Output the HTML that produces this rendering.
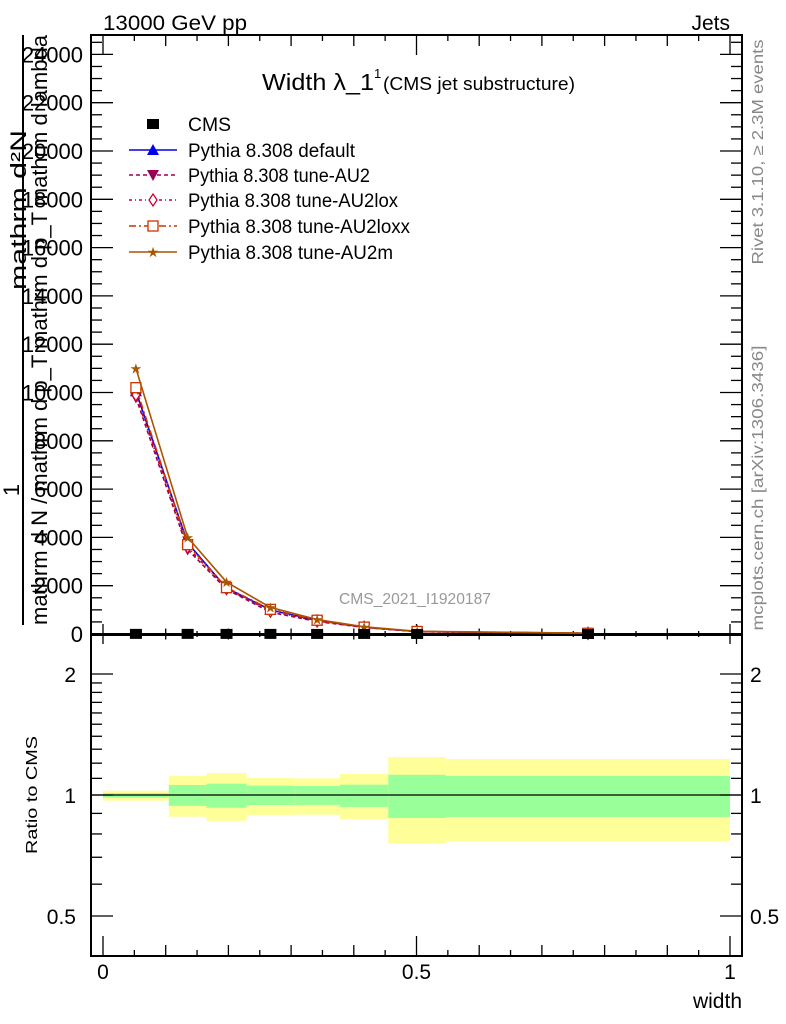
<!DOCTYPE html>
<html><head><meta charset="utf-8"><style>
body{margin:0;background:#fff}
svg{font-family:"Liberation Sans",sans-serif;display:block}
</style></head><body>
<svg id="chart" width="786" height="1024" xmlns="http://www.w3.org/2000/svg">
<text x="103" y="30" font-size="21" textLength="144" lengthAdjust="spacingAndGlyphs">13000 GeV pp</text>
<text x="730" y="30" font-size="21" text-anchor="end">Jets</text>
<text x="262" y="90" font-size="23" textLength="112" lengthAdjust="spacingAndGlyphs">Width λ_1</text>
<text x="374" y="78" font-size="13">1</text>
<text x="383" y="90" font-size="18" textLength="192" lengthAdjust="spacingAndGlyphs">(CMS jet substructure)</text>
<text transform="translate(763,152) rotate(-90)" font-size="16" fill="#888" text-anchor="middle" textLength="225" lengthAdjust="spacingAndGlyphs">Rivet 3.1.10, ≥ 2.3M events</text>
<text transform="translate(763,488) rotate(-90)" font-size="16" fill="#888" text-anchor="middle" textLength="285" lengthAdjust="spacingAndGlyphs">mcplots.cern.ch [arXiv:1306.3436]</text>
<text x="415" y="604" font-size="16" fill="#999" text-anchor="middle" textLength="152" lengthAdjust="spacingAndGlyphs">CMS_2021_I1920187</text>
<g font-size="22">
<text transform="translate(26,210) rotate(-90)" text-anchor="middle" textLength="160" lengthAdjust="spacingAndGlyphs">mathrm d²N</text>
<line x1="23" y1="35" x2="23" y2="625" stroke="#000" stroke-width="2"/>
<text transform="translate(19,490) rotate(-90)" text-anchor="middle">1</text>
<text transform="translate(47,330) rotate(-90)" text-anchor="middle" textLength="590" lengthAdjust="spacingAndGlyphs">mathrm d N / mathrm d p_T mathrm d p_T  mathrm d lambda</text>
</g>
<text transform="translate(37,795) rotate(-90)" font-size="16" text-anchor="middle" textLength="118" lengthAdjust="spacingAndGlyphs">Ratio to CMS</text>
<text x="742" y="1008" font-size="21" text-anchor="end">width</text>
<g id="bands"></g>
<g id="axes"></g>
<g id="series"></g>
<g id="legend"></g>
</svg>
<script>
const binEdges=[0,0.105,0.165,0.229,0.305,0.378,0.455,0.547,1.0];
const binCenters=[0.0525,0.135,0.197,0.267,0.3415,0.4165,0.501,0.7735];
const cmsValues=[5,5,4,4,3,3,2,1];
const defaultValues=[10050,3770,1900,1000,560,280,100,30];
const au2Values=[9800,3500,1850,900,520,270,95,28];
const au2loxValues=[9900,3600,1880,950,540,275,98,29];
const au2loxxValues=[10200,3700,1920,1020,570,285,105,32];
const au2mValues=[11000,4000,2150,1100,600,300,110,35];
const yellowUp=[1.025,1.115,1.134,1.102,1.10,1.128,1.243,1.229];
const yellowDown=[0.968,0.883,0.862,0.892,0.893,0.872,0.757,0.768];
const greenUp=[1.01,1.059,1.067,1.055,1.053,1.061,1.123,1.115];
const greenDown=[0.985,0.94,0.93,0.944,0.945,0.934,0.877,0.882];
const yTicks=[0,2000,4000,6000,8000,10000,12000,14000,16000,18000,20000,22000,24000];
const ratioTicks=[0.5,1,2];
const xTickLabels=[0,0.5,1];

const NS="http://www.w3.org/2000/svg";
const L=91,R=742,T=35,MB=635,RB=956;
const X=v=>103+627*v;
const Y=v=>634-v*0.02415;
const RY=r=>795-121*Math.log2(r);
function mk(tag,attrs,parent){const e=document.createElementNS(NS,tag);for(const k in attrs)e.setAttribute(k,attrs[k]);parent.appendChild(e);return e;}
const axes=document.getElementById('axes'),bands=document.getElementById('bands'),series=document.getElementById('series'),legend=document.getElementById('legend');

for(let i=0;i<binCenters.length;i++){
 const x0=X(binEdges[i]),x1=X(binEdges[i+1]);
 const yb=mk('rect',{x:x0,y:RY(yellowUp[i]),width:x1-x0,height:RY(yellowDown[i])-RY(yellowUp[i]),fill:'#ffff99'},bands);
 
 
 const gb=mk('rect',{x:x0,y:RY(greenUp[i]),width:x1-x0,height:RY(greenDown[i])-RY(greenUp[i]),fill:'#99ff99'},bands);
 
 
}
const one=mk('line',{x1:L,x2:R,y1:RY(1),y2:RY(1),stroke:'#000','stroke-width':1.2},bands);



const f1=mk('rect',{x:L,y:T,width:R-L,height:MB-T,fill:'none',stroke:'#000','stroke-width':2},axes);


const f2=mk('rect',{x:L,y:MB,width:R-L,height:RB-MB,fill:'none',stroke:'#000','stroke-width':2},axes);


const base=mk('line',{x1:L,x2:R,y1:Y(0),y2:Y(0),stroke:'#000','stroke-width':2},axes);



for(let v=0;v<=24500;v+=500){
 const y=Y(v);if(y<T)continue;
 const major=v%2000===0,len=major?22:11;
 mk('line',{x1:L,x2:L+len,y1:y,y2:y,stroke:'#000','stroke-width':1.3},axes);
 mk('line',{x1:R,x2:R-len,y1:y,y2:y,stroke:'#000','stroke-width':1.3},axes);
}
yTicks.forEach(v=>{const t=mk('text',{x:83,y:Y(v)+8,'font-size':22,'text-anchor':'end'},axes);t.textContent=v;
 
 });
[0.5,0.6,0.7,0.8,0.9,1,1.1,1.2,1.3,1.4,1.5,1.6,1.7,1.8,1.9,2].forEach(r=>{
 const y=RY(r);const major=ratioTicks.includes(r);const len=major?22:11;
 mk('line',{x1:L,x2:L+len,y1:y,y2:y,stroke:'#000','stroke-width':1.3},axes);
 mk('line',{x1:R,x2:R-len,y1:y,y2:y,stroke:'#000','stroke-width':1.3},axes);
});
ratioTicks.forEach(r=>{
 const a=mk('text',{x:76,y:RY(r)+8,'font-size':21,'text-anchor':'end'},axes);a.textContent=r;
 
 
 const b=mk('text',{x:750,y:RY(r)+8,'font-size':21},axes);b.textContent=r;
 
 
});
for(let k=0;k<=20;k++){
 const v=k*0.05,x=X(v);const big=k%10===0,mid=k%2===0;
 const len=big?20:(mid?11:6);
 mk('line',{x1:x,x2:x,y1:RB,y2:RB-len,stroke:'#000','stroke-width':1.3},axes);
 mk('line',{x1:x,x2:x,y1:T,y2:T+len,stroke:'#000','stroke-width':1.3},axes);
 mk('line',{x1:x,x2:x,y1:Y(0)-len/2,y2:Y(0)+len/2,stroke:'#000','stroke-width':1.3},axes);
}
xTickLabels.forEach(v=>{const t=mk('text',{x:X(v),y:979,'font-size':21,'text-anchor':'middle'},axes);t.textContent=v;
 
 });

function marker(type,x,y,c,g){
 if(type==='sq')return mk('rect',{x:x-6,y:y-5,width:12,height:10,fill:'#000'},g);
 if(type==='tu')return mk('polygon',{points:`${x},${y-6} ${x-6},${y+5} ${x+6},${y+5}`,fill:c},g);
 if(type==='td')return mk('polygon',{points:`${x},${y+6} ${x-6},${y-5} ${x+6},${y-5}`,fill:c},g);
 if(type==='di')return mk('polygon',{points:`${x},${y-6} ${x+4},${y} ${x},${y+6} ${x-4},${y}`,fill:'#fff',stroke:c,'stroke-width':1.3},g);
 if(type==='os')return mk('rect',{x:x-5,y:y-5,width:10,height:10,fill:'#fff',stroke:c,'stroke-width':1.3},g);
 if(type==='st')return mk('text',{x:x,y:y+5,'font-size':14,'text-anchor':'middle',fill:c},g);
}
const defs=[
 {name:'default',vals:defaultValues,c:'#0000ee',dash:'',m:'tu',label:'Pythia 8.308 default',w:167},
 {name:'au2',vals:au2Values,c:'#990055',dash:'4,3',m:'td',label:'Pythia 8.308 tune-AU2',w:182},
 {name:'au2lox',vals:au2loxValues,c:'#cc0033',dash:'3,3,1,3',m:'di',label:'Pythia 8.308 tune-AU2lox',w:210},
 {name:'au2loxx',vals:au2loxxValues,c:'#cc3300',dash:'7,3,2,3',m:'os',label:'Pythia 8.308 tune-AU2loxx',w:222},
 {name:'au2m',vals:au2mValues,c:'#aa5500',dash:'',m:'st',label:'Pythia 8.308 tune-AU2m',w:205}
];
defs.forEach(d=>{
 const g=mk('g',{},series);
 
 
 const pts=d.vals.map((v,i)=>X(binCenters[i])+','+Y(v)).join(' ');
 const pl=mk('polyline',{points:pts,fill:'none',stroke:d.c,'stroke-width':1.6,'stroke-dasharray':d.dash},g);
 
 
 d.vals.forEach((v,i)=>{const m=marker(d.m,X(binCenters[i]),Y(v),d.c,g);if(d.m==='st')m.textContent='★';
  
  });
});
const cg=mk('g',{},series);


cmsValues.forEach((v,i)=>{const m=marker('sq',X(binCenters[i]),Y(v),'#000',cg);
 
 });

const lys=[124,150,175,200,226,252];
const le=mk('g',{},legend);


marker('sq',153,lys[0],'#000',le);
const lt=mk('text',{x:188,y:lys[0]+7,'font-size':19,textLength:43,lengthAdjust:'spacingAndGlyphs'},le);lt.textContent='CMS';
defs.forEach((d,i)=>{
 const g=mk('g',{},legend);
 
 
 const y=lys[i+1];
 mk('line',{x1:129,x2:177,y1:y,y2:y,stroke:d.c,'stroke-width':1.5,'stroke-dasharray':d.dash},g);
 const m=marker(d.m,153,y,d.c,g);if(d.m==='st')m.textContent='★';
 const t=mk('text',{x:188,y:y+7,'font-size':19,textLength:d.w,lengthAdjust:'spacingAndGlyphs'},g);t.textContent=d.label;
});
</script>
</body></html>
